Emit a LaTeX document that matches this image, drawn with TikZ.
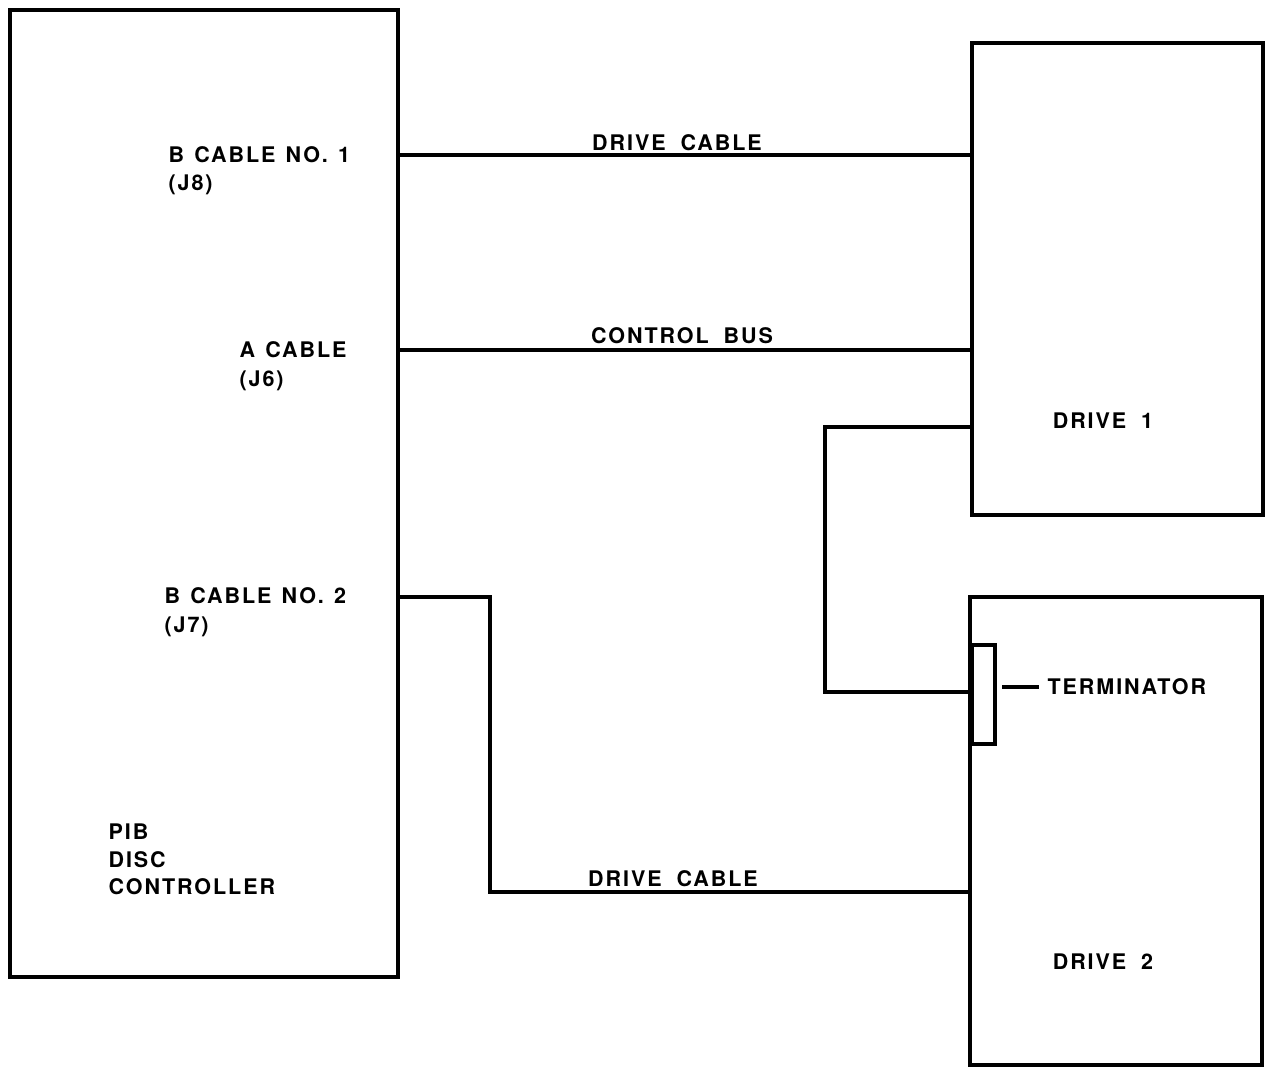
\documentclass[tikz,border=0pt]{standalone}
\usepackage{fontspec}
\newfontfamily\labfont{TeX Gyre Heros}[LetterSpace=9]
\newcommand\gapA{\hspace{10.2pt}}
\newcommand\gapB{\hspace{15pt}}
\begin{document}
\begin{tikzpicture}[x=1pt,y=-1pt,
  line width=3.2pt,
  box/.style={draw,rectangle,line width=3.2pt,minimum width=0pt,minimum height=0pt,inner sep=0pt},
  lab/.style={font=\labfont\bfseries\fontsize{21.5}{24}\selectfont,inner sep=0pt},
  wire/.style={draw,line width=3.2pt}]
\useasboundingbox (0,0) rectangle (1265,1066);
% boxes
\node[box] (ctrl) at (204,493.5) [minimum width=388pt,minimum height=967pt] {};
\node[box] (drive1) at (1117.5,279) [minimum width=291pt,minimum height=472pt] {};
\node[box] (drive2) at (1116,831) [minimum width=292pt,minimum height=468pt] {};
\node[box] (term) at (983.5,694.5) [minimum width=23pt,minimum height=99pt] {};
% ports
\coordinate (p1) at (ctrl.east |- 0,155);
\coordinate (p2) at (ctrl.east |- 0,350);
\coordinate (p3) at (ctrl.east |- 0,597);
\coordinate (d1a) at (drive1.west |- 0,155);
\coordinate (d1b) at (drive1.west |- 0,350);
\coordinate (d1c) at (drive1.west |- 0,427);
\coordinate (tin) at (term.west |- 0,692);
\coordinate (d2a) at (drive2.west |- 0,892);
\coordinate (tl1) at (1002,687);
\coordinate (tl2) at (1039,687);
% connectors
\draw[wire] (p1) -- (d1a);
\draw[wire] (p2) -- (d1b);
\draw[wire] (d1c) -| (825,692) -- (tin);
\draw[wire] (p3) -| (490,892) -- (d2a);
\draw[wire] (tl1) -- (tl2);
% labels
\node[lab,anchor=base west] (l1) at (167,162) {B\gapA CABLE\gapA NO.\gapA 1};
\node[lab,anchor=base west] (l1b) at (167,190) {(J8)};
\node[lab,anchor=base west] (l2) at (238,357) {A\gapA CABLE};
\node[lab,anchor=base west] (l2b) at (238,386) {(J6)};
\node[lab,anchor=base west] (l3) at (163,603) {B\gapA CABLE\gapA NO.\gapA 2};
\node[lab,anchor=base west] (l3b) at (163,632) {(J7)};
\node[lab,anchor=base west] (l4) at (107,839) {PIB};
\node[lab,anchor=base west] (l5) at (107,867) {DISC};
\node[lab,anchor=base west] (l6) at (107,894) {CONTROLLER};
\node[lab,anchor=base] (c1) at (677,150) {DRIVE\gapB CABLE};
\node[lab,anchor=base] (c2) at (682,343) {CONTROL\gapB BUS};
\node[lab,anchor=base] (c3) at (673,886) {DRIVE\gapB CABLE};
\node[lab,anchor=base] (dl1) at (1103,428) {DRIVE\gapB 1};
\node[lab,anchor=base] (dl2) at (1103,969) {DRIVE\gapB 2};
\node[lab,anchor=base west] (tl) at (1046,694) {TERMINATOR};
\end{tikzpicture}
\end{document}
